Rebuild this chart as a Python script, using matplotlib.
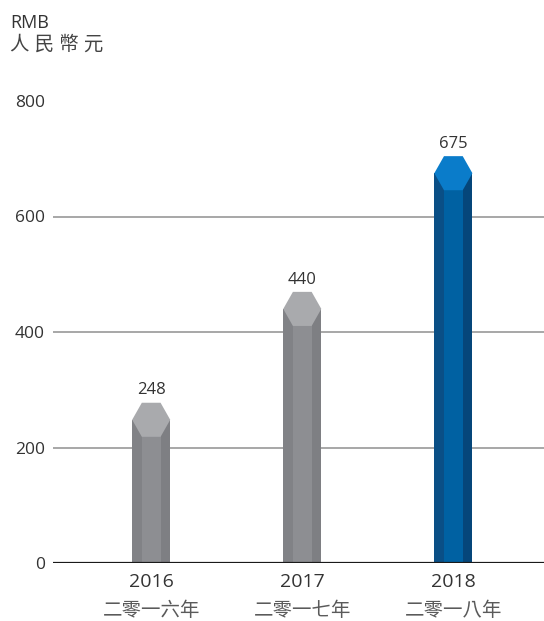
import matplotlib.pyplot as plt
from matplotlib.patches import Polygon, Rectangle
from matplotlib.transforms import blended_transform_factory

years = ['2016', '2017', '2018']
years_zh = ['二零一六年', '二零一七年', '二零一八年']
values = [248, 440, 675]
yticks = [0, 200, 400, 600, 800]

grey = {'left': '#818286', 'mid': '#8d8e92', 'right': '#7e7f83', 'cap': '#a9aaad'}
blue = {'left': '#0a4f86', 'mid': '#0061a2', 'right': '#05467a', 'cap': '#0a7cca'}
styles = [grey, grey, blue]

plt.rcParams['font.family'] = ['Open Sans', 'Noto Sans CJK TC', 'DejaVu Sans']

fig = plt.figure(figsize=(5.44, 6.21), dpi=100)
ax = fig.add_axes([53 / 544, 58 / 621, 1 - 53 / 544, 462 / 621])
ax.set_xlim(-0.65, 2.6)
ax.set_ylim(0, 800)

# half width of bar, half width of flat faces, half height of cap
w, f, hh = 0.126, 0.062, 29.5
for i, (v, st) in enumerate(zip(values, styles)):
    ax.add_patch(Rectangle((i - w, 0), w - f, v, color=st['left'], lw=0, zorder=3))
    ax.add_patch(Rectangle((i - f, 0), 2 * f, v, color=st['mid'], lw=0, zorder=3))
    ax.add_patch(Rectangle((i + f, 0), w - f, v, color=st['right'], lw=0, zorder=3))
    hexagon = [(i - f, v + hh), (i + f, v + hh), (i + w, v), (i + f, v - hh),
               (i - f, v - hh), (i - w, v)]
    ax.add_patch(Polygon(hexagon, closed=True, color=st['cap'], lw=0, zorder=4))
    ax.annotate(str(v), (i, v + hh), xytext=(0, 6), textcoords='offset points',
                ha='center', va='baseline', fontsize=12, color='#333333')

for y in yticks[1:-1]:
    ax.axhline(y, color='#8f8f8f', lw=1.1, zorder=1)
ax.axhline(0, color='#1a1a1a', lw=1.6, zorder=5)

for s in ax.spines.values():
    s.set_visible(False)
ax.set_xticks([])
ax.set_yticks(yticks)
ax.tick_params(axis='y', length=0, pad=6, labelsize=12.5, labelcolor='#333333')

trans = blended_transform_factory(ax.transData, ax.transAxes)
for i, (yr, zh) in enumerate(zip(years, years_zh)):
    ax.annotate(yr, (i, 0), xycoords=trans, xytext=(0, -17.5),
                textcoords='offset points', ha='center', va='baseline',
                fontsize=14, color='#333333', annotation_clip=False)
    ax.annotate(zh, (i, 0), xycoords=trans, xytext=(0, -38),
                textcoords='offset points', ha='center', va='baseline',
                fontsize=14, color='#5a5a5a', annotation_clip=False)

fig.text(10 / 544, 1 - 28 / 621, 'RMB', fontsize=13, color='#333333',
         ha='left', va='baseline')
fig.text(10 / 544, 1 - 50 / 621, '人 民 幣 元', fontsize=14, color='#444444',
         ha='left', va='baseline')

fig.savefig('out.png', dpi=100)
